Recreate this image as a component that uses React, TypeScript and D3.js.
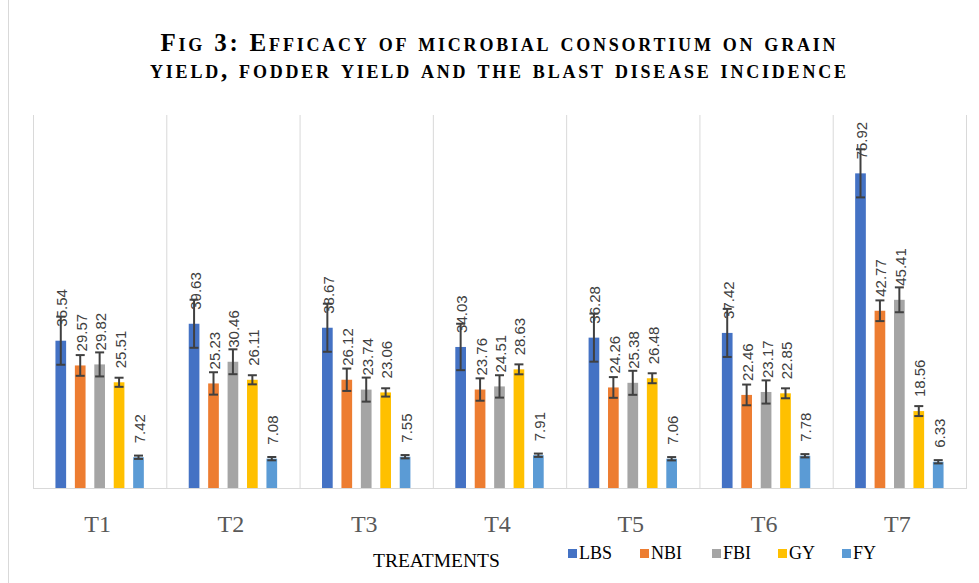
import React from "react";
import * as d3 from "d3";

const categories = ["T1", "T2", "T3", "T4", "T5", "T6", "T7"];
const seriesNames = ["LBS", "NBI", "FBI", "GY", "FY"];
const LBS = [35.54, 39.63, 38.67, 34.03, 36.28, 37.42, 75.92];
const NBI = [29.57, 25.23, 26.12, 23.76, 24.26, 22.46, 42.77];
const FBI = [29.82, 30.46, 23.74, 24.51, 25.38, 23.17, 45.41];
const GY = [25.51, 26.11, 23.06, 28.63, 26.48, 22.85, 18.56];
const FY = [7.42, 7.08, 7.55, 7.91, 7.06, 7.78, 6.33];
const LBS_err = [5.8, 5.8, 5.8, 5.6, 5.8, 5.8, 5.8];
const NBI_err = [2.5, 2.7, 2.7, 2.7, 2.5, 2.5, 2.5];
const FBI_err = [2.9, 3.0, 2.9, 2.7, 2.9, 2.8, 3.0];
const GY_err = [1.1, 1.1, 1.0, 1.2, 1.2, 1.2, 1.2];
const FY_err = [0.4, 0.4, 0.4, 0.4, 0.4, 0.4, 0.4];
const colors = ["#4472C4", "#ED7D31", "#A5A5A5", "#FFC000", "#5B9BD5"];
const titleLines = [
  "Fig 3: Efficacy of microbial consortium on grain",
  "yield, fodder yield and the blast disease incidence",
];
const xTitle = "TREATMENTS";

const values = [LBS, NBI, FBI, GY, FY];
const errors = [LBS_err, NBI_err, FBI_err, GY_err, FY_err];

export default function App() {
  const W = 979;
  const H = 583;
  const left = 33;
  const right = 966;
  const top = 115;
  const bottom = 488;

  const x0 = d3.scaleBand<string>().domain(categories).range([left, right]).padding(0);
  const y = d3.scaleLinear().domain([0, 90]).range([bottom, top]);
  const gw = x0.bandwidth();
  const x1 = d3
    .scaleBand<string>()
    .domain(seriesNames)
    .range([gw / 2 - 44.2, gw / 2 + 44.2])
    .paddingInner(0.45)
    .paddingOuter(0);
  const bw = x1.bandwidth();

  const gridColor = "#D9D9D9";
  const errColor = "#404040";

  const legendX = [568, 640, 712, 778, 842];

  return (
    <svg
      width={W}
      height={H}
      style={{ position: "absolute", left: 0, top: 0, background: "#fff" }}
    >
      <rect x={0} y={0} width={W} height={H} fill="#fff" />
      <line x1={8.5} x2={8.5} y1={0} y2={H} stroke={gridColor} strokeWidth={1} />

      {titleLines.map((t, i) => (
        <text
          key={i}
          x={498}
          y={51 + i * 27}
          textAnchor="middle"
          fontFamily="'Liberation Serif', 'Times New Roman', serif"
          fontWeight="bold"
          fontSize={25}
          style={{ fontVariant: "small-caps" }}
          textLength={i === 0 ? 675 : 696}
          lengthAdjust="spacing"
          fill="#000"
        >
          {t}
        </text>
      ))}

      {categories.map((c) => (
        <line
          key={c}
          x1={(x0(c) as number) + 0.5}
          x2={(x0(c) as number) + 0.5}
          y1={top}
          y2={bottom}
          stroke={gridColor}
        />
      ))}
      <line x1={right + 0.5} x2={right + 0.5} y1={top} y2={bottom} stroke={gridColor} />

      {categories.map((c, ci) => (
        <g key={c} transform={`translate(${x0(c)},0)`}>
          {seriesNames.map((s, si) => {
            const v = values[si][ci];
            const e = errors[si][ci];
            const bx = x1(s) as number;
            const cx = bx + bw / 2;
            return (
              <g key={s}>
                <rect x={bx} y={y(v)} width={bw} height={bottom - y(v)} fill={colors[si]} />
                <line x1={cx} x2={cx} y1={y(v + e)} y2={y(v - e)} stroke={errColor} strokeWidth={2} />
                <line x1={cx - 4.5} x2={cx + 4.5} y1={y(v + e)} y2={y(v + e)} stroke={errColor} strokeWidth={2} />
                <line x1={cx - 4.5} x2={cx + 4.5} y1={y(v - e)} y2={y(v - e)} stroke={errColor} strokeWidth={2} />
                <text
                  transform={`translate(${cx + 1},${y(v) - 14}) rotate(-90)`}
                  textAnchor="start"
                  dominantBaseline="central"
                  fontFamily="'Liberation Sans', Arial, sans-serif"
                  fontSize={15}
                  fill="#404040"
                >
                  {v.toFixed(2)}
                </text>
              </g>
            );
          })}
        </g>
      ))}

      <line x1={left} x2={right + 1} y1={bottom + 0.5} y2={bottom + 0.5} stroke={gridColor} />

      {categories.map((c) => (
        <text
          key={c}
          x={(x0(c) as number) + gw / 2 - 2}
          y={532}
          textAnchor="middle"
          fontFamily="'Liberation Serif', 'Times New Roman', serif"
          fontSize={24}
          fill="#595959"
        >
          {c}
        </text>
      ))}

      <text
        x={373}
        y={567}
        fontFamily="'Liberation Serif', 'Times New Roman', serif"
        fontSize={19.5}
        fill="#000"
      >
        {xTitle}
      </text>

      {seriesNames.map((s, i) => (
        <g key={s}>
          <rect x={legendX[i]} y={549} width={9} height={9} fill={colors[i]} />
          <text
            x={legendX[i] + 11}
            y={559}
            fontFamily="'Liberation Serif', 'Times New Roman', serif"
            fontSize={18}
            fill="#000"
          >
            {s}
          </text>
        </g>
      ))}
    </svg>
  );
}
